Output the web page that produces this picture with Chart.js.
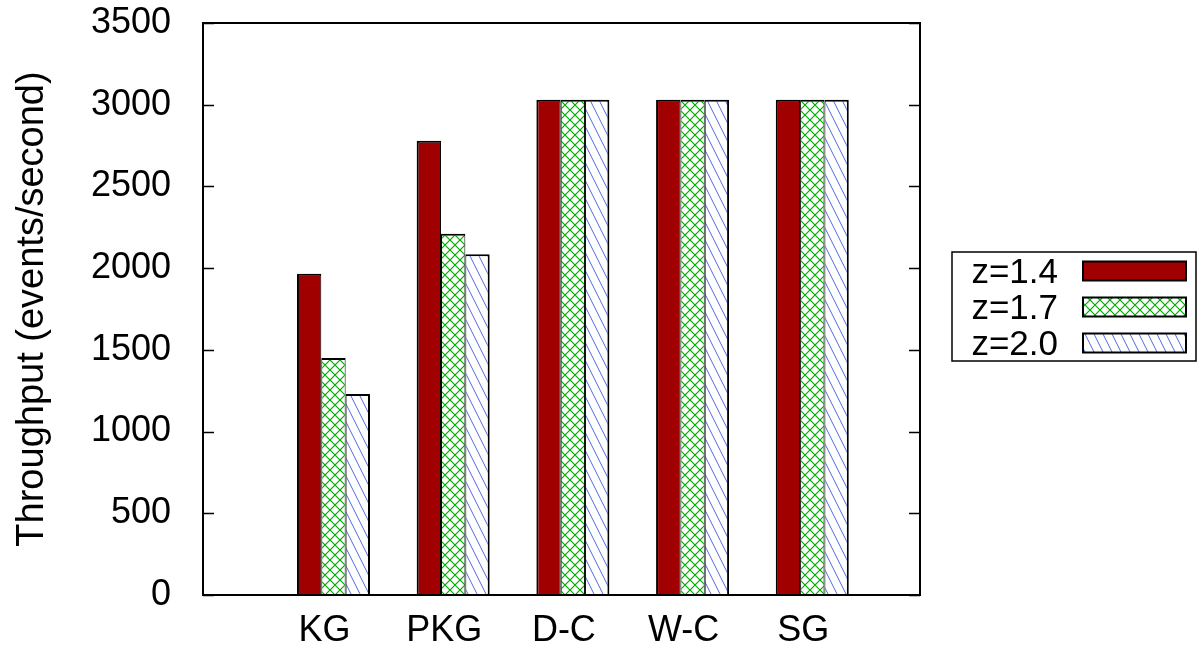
<!DOCTYPE html>
<html>
<head>
<meta charset="utf-8">
<script src="https://cdn.jsdelivr.net/npm/chart.js@4.4.1/dist/chart.umd.min.js"></script>
<style>
  html, body { margin: 0; padding: 0; background: #fff; overflow: hidden; }
</style>
</head>
<body>
<canvas id="chart" width="1198" height="645"></canvas>
<script>
// data
const categories = ['KG', 'PKG', 'D-C', 'W-C', 'SG'];
const seriesNames = ['z=1.4', 'z=1.7', 'z=2.0'];
const z14 = [1965, 2780, 3030, 3030, 3030];
const z17 = [1450, 2210, 3030, 3030, 3030];
const z20 = [1230, 2085, 3030, 3030, 3030];
const yMax = 3500;
const yStep = 500;

const FONT = { family: "'Liberation Sans', Arial, Helvetica, sans-serif", size: 36 };

// hatch fills like gnuplot's fill patterns (white tile so the border colour doesn't show through)
function makePattern(kind) {
  const c = document.createElement('canvas');
  const g = c.getContext('2d');
  if (kind === 'cross') {
    const w = 10, h = 10;
    c.width = w; c.height = h;
    g.fillStyle = '#fff';
    g.fillRect(0, 0, w, h);
    g.strokeStyle = '#00aa00';
    g.lineWidth = 1.2;
    for (const dx of [-w, 0, w]) {
      g.beginPath();
      g.moveTo(dx, 0); g.lineTo(dx + w, h);
      g.moveTo(dx, h); g.lineTo(dx + w, 0);
      g.stroke();
    }
  } else {
    const w = 9, h = 18;
    c.width = w; c.height = h;
    g.fillStyle = '#fff';
    g.fillRect(0, 0, w, h);
    g.strokeStyle = '#5068e0';
    g.lineWidth = 1;
    for (const dx of [-w, 0, w]) {
      g.beginPath();
      g.moveTo(dx, 0); g.lineTo(dx + w, h);
      g.stroke();
    }
  }
  return g.createPattern(c, 'repeat');
}

const fills = ['#a00000', makePattern('cross'), makePattern('lines')];
const borders = [
  { top: 2, left: 2, right: 1, bottom: 0 },
  { top: 2, left: 1, right: 1, bottom: 0 },
  { top: 2, left: 1, right: 2, bottom: 0 }
];

const toPoints = arr => arr.map((v, i) => ({ x: i + 1, y: v }));

// frame + inward tick marks on both sides
const framePlugin = {
  id: 'frame',
  afterDatasetsDraw(chart) {
    const { ctx, chartArea: a, scales } = chart;
    ctx.save();
    ctx.strokeStyle = '#000';
    ctx.lineWidth = 2;
    ctx.strokeRect(a.left, a.top, a.right - a.left, a.bottom - a.top);
    ctx.beginPath();
    scales.y.ticks.forEach(t => {
      const y = Math.round(scales.y.getPixelForValue(t.value)) + 0.5;
      ctx.moveTo(a.left, y); ctx.lineTo(a.left + 11, y);
      ctx.moveTo(a.right, y); ctx.lineTo(a.right - 11, y);
    });
    ctx.lineWidth = 1.5;
    ctx.stroke();
    ctx.restore();
  }
};

// boxed key on the right, text left of the sample
const keyPlugin = {
  id: 'key',
  afterDraw(chart) {
    const { ctx } = chart;
    const box = { x: 952, y: 252, w: 244, h: 109 };
    ctx.save();
    ctx.strokeStyle = '#000';
    ctx.lineWidth = 1.5;
    ctx.strokeRect(box.x, box.y, box.w, box.h);
    ctx.font = `35px ${FONT.family}`;
    ctx.textAlign = 'right';
    ctx.textBaseline = 'middle';
    chart.data.datasets.forEach((ds, i) => {
      const cy = 271 + i * 36;
      ctx.fillStyle = '#000';
      ctx.fillText(ds.label, 1058, cy + 2);
      ctx.fillStyle = ds.backgroundColor;
      ctx.fillRect(1083, cy - 9.5, 103, 19);
      ctx.lineWidth = 2;
      ctx.strokeRect(1083, cy - 9.5, 103, 19);
    });
    ctx.restore();
  }
};

new Chart(document.getElementById('chart'), {
  type: 'bar',
  data: {
    datasets: [z14, z17, z20].map((vals, i) => ({
      label: seriesNames[i],
      data: toPoints(vals),
      backgroundColor: fills[i],
      borderColor: '#000',
      borderWidth: borders[i],
      borderSkipped: false,
      categoryPercentage: 0.61,
      barPercentage: 1.0
    }))
  },
  options: {
    responsive: false,
    animation: false,
    layout: { padding: { top: 23, right: 278, bottom: 0, left: 0 } },
    plugins: { legend: { display: false }, tooltip: { enabled: false } },
    scales: {
      x: {
        type: 'linear',
        min: -0.09,
        max: 5.9,
        offset: false,
        grid: { display: false },
        border: { display: false },
        afterFit: s => { s.height = 50; s.paddingLeft = 0; s.paddingRight = 0; },
        afterBuildTicks: s => { s.ticks = categories.map((c, i) => ({ value: i + 1 })); },
        ticks: {
          callback: v => categories[v - 1] || '',
          font: FONT,
          color: '#000',
          padding: 6,
          labelOffset: -9,
          maxRotation: 0,
          autoSkip: false
        }
      },
      y: {
        min: 0,
        max: yMax,
        grid: { display: false },
        border: { display: false },
        afterFit: s => { s.width = 203; s.paddingTop = 0; s.paddingBottom = 0; },
        ticks: { stepSize: yStep, font: FONT, color: '#000', padding: 24, callback: v => String(v) },
        title: {
          display: true,
          text: 'Throughput (events/second)',
          font: { family: FONT.family, size: 38 },
          color: '#000',
          padding: { top: 10, bottom: 0 }
        }
      }
    }
  },
  plugins: [framePlugin, keyPlugin]
});
</script>
</body>
</html>
